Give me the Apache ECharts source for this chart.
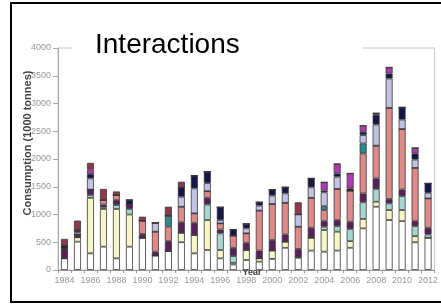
<!DOCTYPE html>
<html>
<head>
<meta charset="utf-8">
<script src="https://cdn.jsdelivr.net/npm/echarts@6/dist/echarts.min.js"></script>
<style>html,body{margin:0;padding:0;background:#fff}#c{width:441px;height:304px}</style>
</head>
<body>
<div id="c"></div>
<script>
const years = ['1984','1985','1986','1987','1988','1989','1990','1991','1992','1993','1994','1995','1996','1997','1998','1999','2000','2001','2002','2003','2004','2005','2006','2007','2008','2009','2010','2011','2012'];
const yTicks = [0,500,1000,1500,2000,2500,3000,3500,4000];
const sWhite    = [210,510,300,420,210,420,580,260,340,500,300,360,210,100,180,150,200,400,220,350,330,350,400,750,1140,900,880,500,580];
const sYellow   = [0,80,1000,680,890,580,0,0,0,170,330,540,150,30,180,60,150,110,20,230,390,340,120,170,90,180,200,110,0];
const sLtTeal   = [0,0,50,30,70,100,0,0,0,0,0,280,300,120,0,0,0,0,0,0,60,100,220,300,230,120,250,180,60];
const sPurple   = [180,50,100,50,90,80,70,70,180,190,220,120,70,150,130,140,190,130,140,180,100,110,130,160,190,80,120,90,120];
const sSalmon   = [0,0,0,80,90,0,240,360,260,280,170,120,110,220,170,720,650,570,400,540,200,560,560,720,590,1640,1090,960,530];
const sTeal     = [0,0,0,0,0,0,0,0,200,0,0,0,0,0,0,0,0,0,0,0,70,0,0,180,0,0,0,0,0];
const sLavender = [0,40,200,0,0,0,0,160,0,180,450,145,60,0,90,90,150,170,220,190,250,220,0,150,380,530,170,150,100];
const sNavy     = [50,40,80,0,0,80,0,0,0,170,230,205,230,110,80,60,110,110,0,160,30,60,40,60,175,90,220,110,170];
const sMagenta  = [0,0,80,0,0,0,0,0,0,0,0,0,0,0,0,0,0,0,0,0,150,170,270,110,30,110,0,100,0];
const sDarkRed  = [120,170,120,200,65,0,70,0,160,100,0,0,0,0,0,0,0,0,220,0,0,0,0,0,0,0,0,0,0];

const seriesDefs = [
  ['White', sWhite, '#ffffff'],
  ['Yellow', sYellow, '#f6f6c6'],
  ['LightTeal', sLtTeal, '#a6d6cf'],
  ['Purple', sPurple, '#5a1f5a'],
  ['Salmon', sSalmon, '#df8a88'],
  ['Teal', sTeal, '#2e8890'],
  ['Lavender', sLavender, '#c2c2e6'],
  ['Navy', sNavy, '#15154a'],
  ['Magenta', sMagenta, '#b03ab0'],
  ['DarkRed', sDarkRed, '#8e3a4a']
];

const chart = echarts.init(document.getElementById('c'), null, {renderer:'canvas'});
chart.setOption({
  animation:false,
  backgroundColor:'#fff',
  grid:{left:58, right:1, top:48, bottom:34, show:true, borderColor:'#c8c8c8', borderWidth:1, backgroundColor:'transparent'},
  title:{
    text:'Interactions', left:72, top:29,
    backgroundColor:'#fff', padding:[2,123,4,23],
    textStyle:{fontFamily:'Liberation Sans, Arial', fontSize:28, fontWeight:'normal', color:'#000'}
  },
  xAxis:{
    type:'category', data:years,
    axisLine:{lineStyle:{color:'#999', width:1}},
    axisTick:{show:true, interval:0, length:3, lineStyle:{color:'#999'}},
    axisLabel:{interval:1, color:'#999', fontSize:9, margin:6, fontFamily:'Liberation Sans, Arial'}
  },
  yAxis:{
    type:'value', min:0, max:4000, interval:500,
    axisLine:{show:true, lineStyle:{color:'#aaa'}},
    axisTick:{show:true, length:5, lineStyle:{color:'#aaa'}},
    splitLine:{show:false},
    axisLabel:{color:'#999', fontSize:9, margin:7, fontFamily:'Liberation Sans, Arial',
      formatter:function(v){return yTicks.indexOf(v)>=0?String(v):'';}}
  },
  graphic:[
    {type:'rect', shape:{x:11, y:3, width:440, height:299}, style:{fill:'none', stroke:'#000', lineWidth:2}, z:100},
    {type:'text', x:28, y:143, rotation:Math.PI/2, z:50,
      style:{text:'Consumption (1000 tonnes)', fill:'#444', font:'bold 11px Liberation Sans, Arial', textAlign:'center', textVerticalAlign:'middle'}},
    {type:'text', x:252, y:273, z:50,
      style:{text:'Year', fill:'#444', font:'bold 9px Liberation Sans, Arial', textAlign:'center', textVerticalAlign:'middle'}}
  ],
  series: seriesDefs.map(function(d){
    return {name:d[0], type:'bar', stack:'all', data:d[1], barWidth:7,
      itemStyle:{color:d[2], borderColor:'#3a3a3a', borderWidth:0.8}};
  })
});
</script>
</body>
</html>
